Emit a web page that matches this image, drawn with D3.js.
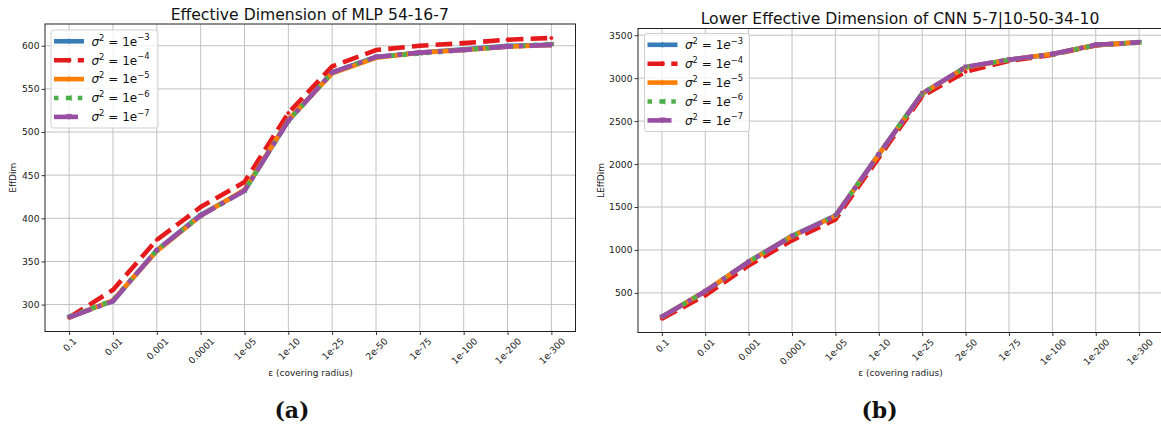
<!DOCTYPE html>
<html><head><meta charset="utf-8">
<script src="https://cdn.jsdelivr.net/npm/d3@7"></script>
<style>body{margin:0;background:#fff}svg{display:block;font-family:"DejaVu Sans",sans-serif}</style>
</head><body><svg id="c" width="1161" height="432"></svg>
<script>
// ---------- data ----------
const categories = ["0.1","0.01","0.001","0.0001","1e-05","1e-10","1e-25","2e-50","1e-75","1e-100","1e-200","1e-300"];
const seriesExponents = ["−3","−4","−5","−6","−7"];

const mlp1e3 = [286, 304, 363, 404, 432, 513, 569, 587, 592, 596, 600, 601];
const mlp1e4 = [285, 317, 375, 413, 442, 522, 576, 595, 600, 603, 607, 609];
const mlp1e5 = [285, 305, 362, 403, 433, 514, 568, 586, 592, 595, 599, 601];
const mlp1e6 = [286, 305, 363, 403, 432, 513, 569, 587, 591, 595, 599, 602];
const mlp1e7 = [285, 304, 363, 403, 432, 513, 569, 587, 592, 595, 599, 601];

const cnn1e3 = [224, 516, 865, 1165, 1400, 2115, 2822, 3128, 3213, 3278, 3385, 3416];
const cnn1e4 = [200, 472, 820, 1112, 1355, 2075, 2790, 3075, 3200, 3272, 3380, 3414];
const cnn1e5 = [220, 520, 860, 1160, 1395, 2110, 2818, 3125, 3215, 3280, 3387, 3417];
const cnn1e6 = [222, 518, 862, 1158, 1398, 2112, 2820, 3127, 3212, 3277, 3386, 3415];
const cnn1e7 = [220, 520, 860, 1160, 1395, 2110, 2820, 3130, 3215, 3280, 3388, 3417];

const mlpYTicks = [300, 350, 400, 450, 500, 550, 600];
const cnnYTicks = [500, 1000, 1500, 2000, 2500, 3000, 3500];

// ---------- styles ----------
const colors = ["#377eb8", "#e41a1c", "#ff7f00", "#4daf4a", "#984ea3"];
const dashes = [null, "16.6,7.2", null, "4.5,7.4", "24,6,4.6,6"];
const markers = ["plus", "circle", "plus", "triL", "triD"];
const LW = 4.6;
const TICKFS = 9.2;

const svg = d3.select("#c");

function markerPath(type, s) {
  const h = s / 2;
  switch (type) {
    case "plus": return `M${-h},0L${h},0M0,${-h}L0,${h}`;
    case "circle": return d3.symbol(d3.symbolCircle, s * s * 0.5)();
    case "triL": return `M${-h},0L${h},${-h}L${h},${h}Z`;
    case "triD": return `M${-h},${-h}L${h},${-h}L0,${h}Z`;
  }
}

function drawPanel(cfg) {
  const { x0, x1, y0, y1 } = cfg;
  const g = svg.append("g");
  const x = d3.scalePoint().domain(categories).range([x0, x1]).padding(0.55);
  const all = cfg.series.flat();
  const mn = d3.min(all), mx = d3.max(all), m = (mx - mn) * 0.05;
  const y = d3.scaleLinear().domain([mn - m, mx + m]).range([y1, y0]);

  // grid
  const grid = g.append("g").attr("stroke", "#c2c2c2").attr("stroke-width", 1);
  grid.selectAll(".gx").data(categories).join("line")
    .attr("x1", d => x(d)).attr("x2", d => x(d)).attr("y1", y0).attr("y2", y1);
  grid.selectAll(".gy").data(cfg.yTicks).join("line")
    .attr("y1", d => y(d)).attr("y2", d => y(d)).attr("x1", x0).attr("x2", x1);

  // clip
  const cid = "clip" + cfg.id;
  svg.append("clipPath").attr("id", cid).append("rect")
    .attr("x", x0).attr("y", y0).attr("width", x1 - x0).attr("height", y1 - y0);
  const plot = g.append("g").attr("clip-path", `url(#${cid})`);
  const line = d3.line().x((d, i) => x(categories[i])).y(d => y(d));
  cfg.series.forEach((vals, k) => {
    const sg = plot.append("g");
    sg.append("path").datum(vals).attr("d", line).attr("fill", "none")
      .attr("stroke", colors[k]).attr("stroke-width", LW)
      .attr("stroke-linejoin", "round").attr("stroke-linecap", "butt")
      .attr("stroke-dasharray", dashes[k]);
    sg.selectAll("path.mk").data(vals).join("path").attr("class", "mk")
      .attr("transform", (d, i) => `translate(${x(categories[i])},${y(d)})`)
      .attr("d", markerPath(markers[k], 4.5))
      .attr("fill", markers[k] === "plus" ? "none" : colors[k])
      .attr("stroke", colors[k]).attr("stroke-width", markers[k] === "plus" ? 1.3 : 0.4);
  });

  // axes
  const gx = g.append("g").attr("transform", `translate(0,${y1})`)
    .call(d3.axisBottom(x).tickSize(3.5).tickPadding(3));
  gx.select(".domain").remove();
  gx.selectAll("line").attr("stroke", "#222").attr("stroke-width", 0.9);
  gx.selectAll("text").attr("y", null).attr("dy", null)
    .attr("font-size", TICKFS).attr("font-family", "DejaVu Sans").attr("fill", "#222")
    .attr("text-anchor", "middle").attr("dominant-baseline", "central")
    .each(function () {
      const w = this.getComputedTextLength();
      const half = (w + 0.73 * TICKFS) / (2 * Math.SQRT2);
      d3.select(this).attr("transform", `translate(0,${5.4 + half}) rotate(-45)`);
    });

  const gy = g.append("g").attr("transform", `translate(${x0},0)`)
    .call(d3.axisLeft(y).tickValues(cfg.yTicks).tickFormat(d3.format("d")).tickSize(3.5).tickPadding(2));
  gy.select(".domain").remove();
  gy.selectAll("line").attr("stroke", "#222").attr("stroke-width", 0.9);
  gy.selectAll("text").attr("font-size", TICKFS).attr("font-family", "DejaVu Sans").attr("fill", "#222");

  // spines
  g.append("rect").attr("x", x0).attr("y", y0).attr("width", x1 - x0).attr("height", y1 - y0)
    .attr("fill", "none").attr("stroke", "#222").attr("stroke-width", 1);

  // labels
  g.append("text").attr("x", (x0 + x1) / 2 + cfg.titleDx).attr("y", y0 - 4.5)
    .attr("text-anchor", "middle").attr("font-size", 15.6).attr("fill", "#111").text(cfg.title);
  g.append("text").attr("x", cfg.xlabelX).attr("y", 376)
    .attr("text-anchor", "middle").attr("font-size", 9).attr("fill", "#222").text("ε (covering radius)");
  g.append("text").attr("transform", `translate(${cfg.ylabelX},${(y0 + y1) / 2}) rotate(-90)`)
    .attr("text-anchor", "middle").attr("font-size", 9).attr("fill", "#222").text(cfg.ylabel);
  g.append("text").attr("x", cfg.capX).attr("y", 418).attr("text-anchor", "middle")
    .attr("font-family", "DejaVu Serif, serif").attr("font-weight", "bold")
    .attr("font-size", 22).attr("fill", "#111").text(cfg.caption);

  // legend
  const L = cfg.legend;
  const lg = g.append("g");
  lg.append("rect").attr("x", L.x).attr("y", L.y).attr("width", L.w).attr("height", L.h)
    .attr("rx", 2.5).attr("fill", "rgba(255,255,255,0.8)").attr("stroke", "#d0d0d0").attr("stroke-width", 1);
  seriesExponents.forEach((ex, k) => {
    const ry = L.y + 11.3 + k * 18.9;
    lg.append("line").attr("x1", L.x + 3).attr("x2", L.x + 33).attr("y1", ry).attr("y2", ry)
      .attr("stroke", colors[k]).attr("stroke-width", LW).attr("stroke-dasharray", dashes[k]);
    lg.append("path").attr("transform", `translate(${L.x + 18},${ry})`).attr("d", markerPath(markers[k], 5.5))
      .attr("fill", markers[k] === "plus" ? "none" : colors[k])
      .attr("stroke", colors[k]).attr("stroke-width", markers[k] === "plus" ? 1.3 : 0.4);
    const t = lg.append("text").attr("x", L.x + 40.5).attr("y", ry + 4.3)
      .attr("font-size", 12).attr("fill", "#111").style("white-space", "pre");
    t.append("tspan").attr("font-style", "italic").text("σ");
    t.append("tspan").attr("font-size", 8.4).attr("dy", -5).text("2");
    t.append("tspan").attr("dy", 5).text(" = 1");
    t.append("tspan").attr("font-style", cfg.italicE ? "italic" : "normal").text("e");
    t.append("tspan").attr("font-size", 8.4).attr("dy", -5.5).text(ex);
  });
}

drawPanel({
  id: "a", x0: 45, x1: 575.5, y0: 24, y1: 331.5,
  series: [mlp1e3, mlp1e4, mlp1e5, mlp1e6, mlp1e7], yTicks: mlpYTicks,
  title: "Effective Dimension of MLP 54-16-7", titleDx: -0.5, ylabel: "EffDim", ylabelX: 16,
  xlabelX: 310.5, caption: "(a)", capX: 292, italicE: false,
  legend: { x: 51, y: 30, w: 107, h: 98 }
});
drawPanel({
  id: "b", x0: 638, x1: 1163, y0: 28.5, y1: 332.5,
  series: [cnn1e3, cnn1e4, cnn1e5, cnn1e6, cnn1e7], yTicks: cnnYTicks,
  title: "Lower Effective Dimension of CNN 5-7|10-50-34-10", titleDx: -0.5, ylabel: "LEffDim", ylabelX: 603.5,
  xlabelX: 900.5, caption: "(b)", capX: 879.5, italicE: true,
  legend: { x: 644.5, y: 33.5, w: 105, h: 98 }
});
</script></body></html>
